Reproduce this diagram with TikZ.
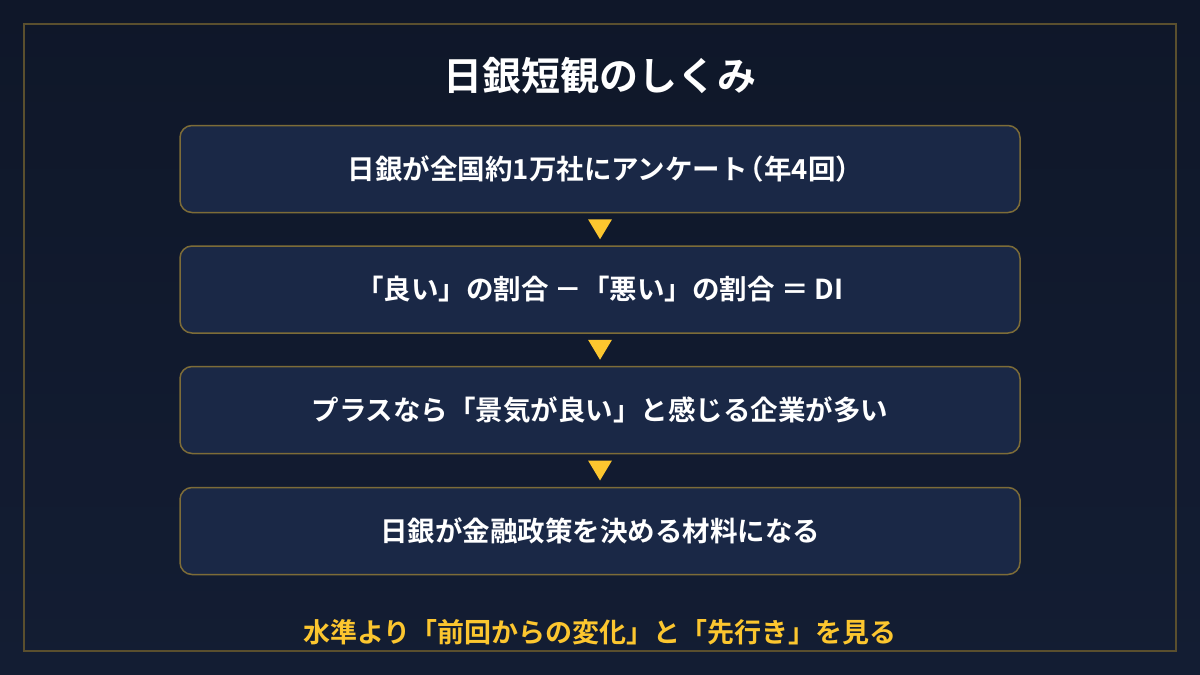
\documentclass[tikz,border=0pt]{standalone}
\usepackage{fontspec}
\usetikzlibrary{calc}
\newfontfamily\jp{Noto Sans CJK JP}[BoldFont={Noto Sans CJK JP Bold}]
\definecolor{bgtop}{HTML}{0F1729}
\definecolor{bgbot}{HTML}{131D33}
\definecolor{frame}{HTML}{5A4F2E}
\definecolor{boxfill}{HTML}{1A2846}
\definecolor{boxline}{HTML}{7D6C38}
\definecolor{gold}{HTML}{FCC62F}
\tikzset{
  stepbox/.style={draw=boxline, line width=1.5pt, fill=boxfill, rounded corners=12pt,
    minimum width=840pt, minimum height=87pt, inner sep=0pt, text=white,
    font=\jp\bfseries\fontsize{27.5pt}{30pt}\selectfont},
  tri/.style={fill=gold, draw=none},
}
\begin{document}
\begin{tikzpicture}[x=1pt,y=-1pt]
\useasboundingbox (0,0) rectangle (1200,675);
\shade[top color=bgtop, bottom color=bgbot] (0,0) rectangle (1200,675);
\draw[frame, line width=1.5pt] (24,24) rectangle (1176,651);
\node[text=white, font=\jp\bfseries\fontsize{39pt}{42pt}\selectfont] (title) at (600,76) {日銀短観のしくみ};
\node[stepbox] (b1) at (600,169) {日銀が全国約1万社にアンケート\kern-0.4em（年4回）\kern-0.4em};
\node[stepbox] (b2) at (600,289.5) {「良い」の割合 －「悪い」の割合 ＝ DI};
\node[stepbox] (b3) at (600,410) {プラスなら「景気が良い」と感じる企業が多い};
\node[stepbox] (b4) at (600,531) {日銀が金融政策を決める材料になる};
\foreach \a/\b/\n in {b1/b2/t1, b2/b3/t2, b3/b4/t3}{
  \path (\a.south) -- (\b.north) coordinate[midway] (\n);
  \fill[tri] ($(\n)+(-12,-10)$) -- ($(\n)+(12,-10)$) -- ($(\n)+(0,10)$) -- cycle;
}
\node[text=gold, font=\jp\bfseries\fontsize{27pt}{30pt}\selectfont] (note) at (600,632) {水準より「前回からの変化」と「先行き」を見る};
\end{tikzpicture}
\end{document}
